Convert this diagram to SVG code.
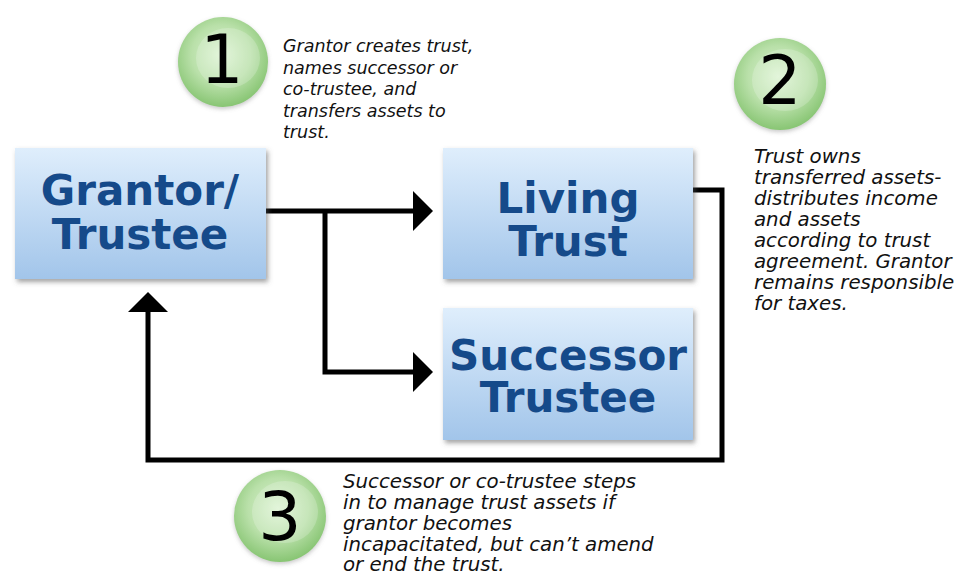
<svg xmlns="http://www.w3.org/2000/svg" width="968" height="574" viewBox="0 0 968 574">
<defs>
<linearGradient id="boxg" x1="0" y1="0" x2="0" y2="1">
<stop offset="0" stop-color="#dfeefc"/>
<stop offset="1" stop-color="#a2c5ea"/>
</linearGradient>
<radialGradient id="ball" cx="0.48" cy="0.42" r="0.6">
<stop offset="0" stop-color="#dcf3d2"/>
<stop offset="0.55" stop-color="#b9e0a9"/>
<stop offset="1" stop-color="#84c36f"/>
</radialGradient>
<filter id="sh" x="-10%" y="-10%" width="125%" height="130%">
<feDropShadow dx="2" dy="3" stdDeviation="2.5" flood-color="#555" flood-opacity="0.55"/>
</filter>
<filter id="bsh" x="-20%" y="-20%" width="140%" height="140%">
<feDropShadow dx="0" dy="2" stdDeviation="2" flood-color="#777" flood-opacity="0.4"/>
</filter>
<marker id="ah" markerUnits="userSpaceOnUse" markerWidth="20" markerHeight="40" viewBox="0 0 20 40" refX="0" refY="20" orient="auto">
<path d="M0,0 L20,20 L0,40 Z" fill="#000"/>
</marker>
<style>
.box{fill:url(#boxg);filter:url(#sh);}
.bt{font-family:"DejaVu Sans","Verdana",sans-serif;font-weight:bold;font-size:42px;fill:#154a8a;text-anchor:middle;}
.note{font-family:"DejaVu Sans","Verdana",sans-serif;font-style:italic;font-size:17.5px;fill:#111;}
.big{font-size:19.8px;}
.num{font-family:"DejaVu Sans","Verdana",sans-serif;font-size:68px;fill:#000;text-anchor:middle;}
.ball{fill:url(#ball);filter:url(#bsh);}
.hl{fill:#ffffff;fill-opacity:0.2;}
.con{fill:none;stroke:#000;stroke-width:5;stroke-linejoin:miter;}
</style>
</defs>
<rect width="968" height="574" fill="#fff"/>

<g id="connectors">
<path class="con" d="M266,211 H413" marker-end="url(#ah)"/>
<path class="con" d="M325,211 V372 H413" marker-end="url(#ah)"/>
<path class="con" d="M693,190 H722 V460 H148 V312" marker-end="url(#ah)"/>
</g>

<g id="grantor">
<rect class="box" x="15" y="148" width="251" height="131"/>
<text class="bt" x="140" y="205">Grantor/</text>
<text class="bt" x="140" y="249">Trustee</text>
</g>

<g id="living-trust">
<rect class="box" x="443" y="148" width="250" height="131"/>
<text class="bt" x="568" y="213">Living</text>
<text class="bt" x="568" y="256">Trust</text>
</g>

<g id="successor-trustee">
<rect class="box" x="443" y="308" width="250" height="132"/>
<text class="bt" x="568" y="370">Successor</text>
<text class="bt" x="568" y="412">Trustee</text>
</g>

<g id="step1">
<circle class="ball" cx="223" cy="62" r="45"/>
<ellipse class="hl" cx="228" cy="58" rx="32" ry="30"/>
<text class="num" x="222" y="83">1</text>
<text class="note">
<tspan x="283" y="52">Grantor creates trust,</tspan>
<tspan x="283" y="73.5">names successor or</tspan>
<tspan x="283" y="95">co-trustee, and</tspan>
<tspan x="283" y="116.5">transfers assets to</tspan>
<tspan x="283" y="138">trust.</tspan>
</text>
</g>

<g id="step2">
<circle class="ball" cx="780" cy="84" r="46"/>
<ellipse class="hl" cx="785" cy="80" rx="33" ry="31"/>
<text class="num" x="780" y="104">2</text>
<text class="note big">
<tspan x="754" y="163">Trust owns</tspan>
<tspan x="754" y="184">transferred assets-</tspan>
<tspan x="754" y="205">distributes income</tspan>
<tspan x="754" y="226">and assets</tspan>
<tspan x="754" y="247">according to trust</tspan>
<tspan x="754" y="268">agreement. Grantor</tspan>
<tspan x="754" y="289">remains responsible</tspan>
<tspan x="754" y="310">for taxes.</tspan>
</text>
</g>

<g id="step3">
<circle class="ball" cx="280" cy="516" r="46"/>
<ellipse class="hl" cx="285" cy="512" rx="33" ry="31"/>
<text class="num" x="280" y="540">3</text>
<text class="note big">
<tspan x="343" y="488">Successor or co-trustee steps</tspan>
<tspan x="343" y="509">in to manage trust assets if</tspan>
<tspan x="343" y="530">grantor becomes</tspan>
<tspan x="343" y="551">incapacitated, but can’t amend</tspan>
<tspan x="343" y="571">or end the trust.</tspan>
</text>
</g>
</svg>
